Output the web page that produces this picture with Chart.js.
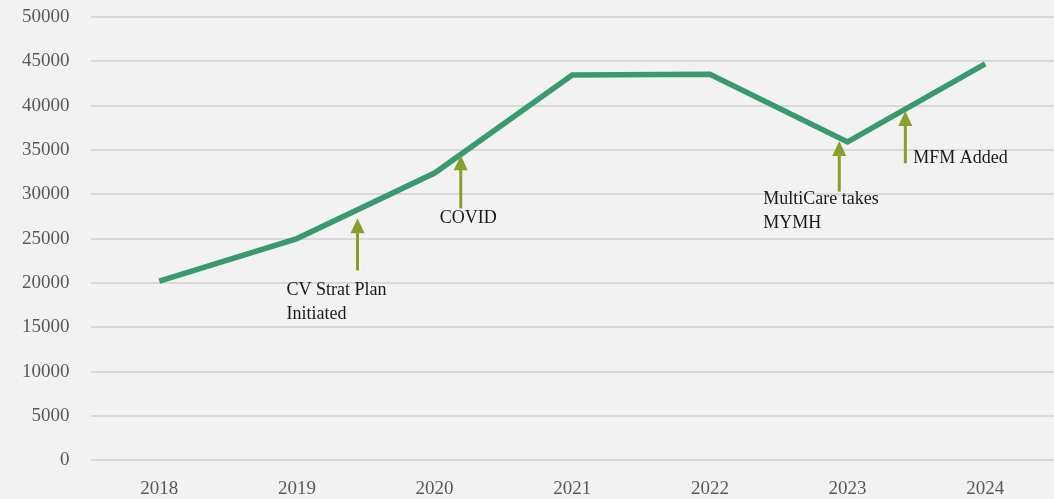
<!DOCTYPE html>
<html>
<head>
<meta charset="utf-8">
<script src="https://cdn.jsdelivr.net/npm/chart.js@4/dist/chart.umd.min.js"></script>
<style>
  html, body { margin: 0; padding: 0; background: #f2f2f2; }
  #wrap { width: 1054px; height: 499px; position: relative; }
</style>
</head>
<body>
<div id="wrap"><canvas id="chart"></canvas></div>
<script>
const years = ["2018", "2019", "2020", "2021", "2022", "2023", "2024"];
const volumes = [20200, 25000, 32400, 43450, 43550, 35900, 44700];

// events: x as a fractional category index, arrow from yBottom up to yTop
const eventLabels = [["CV Strat Plan", "Initiated"], ["COVID"], ["MultiCare takes", "MYMH"], ["MFM Added"]];
const eventX = [1.44, 2.19, 4.94, 5.42];
const eventTop = [27300, 34400, 36000, 39400];
const eventBottom = [21400, 28400, 30300, 33500];

const lineColor = "#3a9a6f";
const arrowColor = "#86a02c";
const font = "'Liberation Serif', 'DejaVu Serif', serif";

const arrows = {
  id: "arrows",
  afterDatasetsDraw(chart) {
    const ctx = chart.ctx;
    const xs = chart.scales.x, ys = chart.scales.y;
    const step = xs.getPixelForValue(1) - xs.getPixelForValue(0);
    ctx.save();
    eventLabels.forEach((lines, i) => {
      const x = xs.getPixelForValue(0) + eventX[i] * step;
      const top = ys.getPixelForValue(eventTop[i]);
      const bottom = ys.getPixelForValue(eventBottom[i]);
      ctx.strokeStyle = arrowColor;
      ctx.fillStyle = arrowColor;
      ctx.lineWidth = 3;
      ctx.beginPath();
      ctx.moveTo(x, bottom);
      ctx.lineTo(x, top + 12);
      ctx.stroke();
      ctx.beginPath();
      ctx.moveTo(x, top);
      ctx.lineTo(x - 7, top + 15);
      ctx.lineTo(x + 7, top + 15);
      ctx.closePath();
      ctx.fill();

      ctx.fillStyle = "#1a1a1a";
      ctx.font = "18px " + font;
      ctx.textBaseline = "middle";
      ctx.textAlign = "left";
      if (i === 3) {
        ctx.fillText(lines[0], x + 8, bottom - 5);
      } else {
        const dx = [-71, -21, -76][i];
        const dy = [20, 10, 8][i];
        lines.forEach((t, k) => ctx.fillText(t, x + dx, bottom + dy + k * 24));
      }
    });
    ctx.restore();
  }
};

new Chart(document.getElementById("chart"), {
  type: "line",
  data: {
    labels: years,
    datasets: [{
      data: volumes,
      borderColor: lineColor,
      borderWidth: 5.5,
      pointRadius: 0,
      tension: 0,
      fill: false
    }]
  },
  options: {
    responsive: true,
    maintainAspectRatio: false,
    animation: false,
    layout: { padding: { top: 17, right: 0, bottom: -18, left: 1 } },
    plugins: { legend: { display: false }, tooltip: { enabled: false } },
    scales: {
      x: {
        offset: true,
        grid: { display: false, drawTicks: false },
        border: { display: false },
        ticks: { color: "#595959", font: { family: font, size: 19 }, padding: 17 }
      },
      y: {
        min: 0,
        max: 50000,
        afterFit: (s) => { s.paddingTop = 0; },
        ticks: {
          stepSize: 5000, color: "#595959", font: { family: font, size: 19 }, padding: 21,
          callback: (v) => String(v)
        },
        grid: { color: "#d9d9d9", lineWidth: 2, drawTicks: false },
        border: { display: false }
      }
    }
  },
  plugins: [arrows]
});
</script>
</body>
</html>
